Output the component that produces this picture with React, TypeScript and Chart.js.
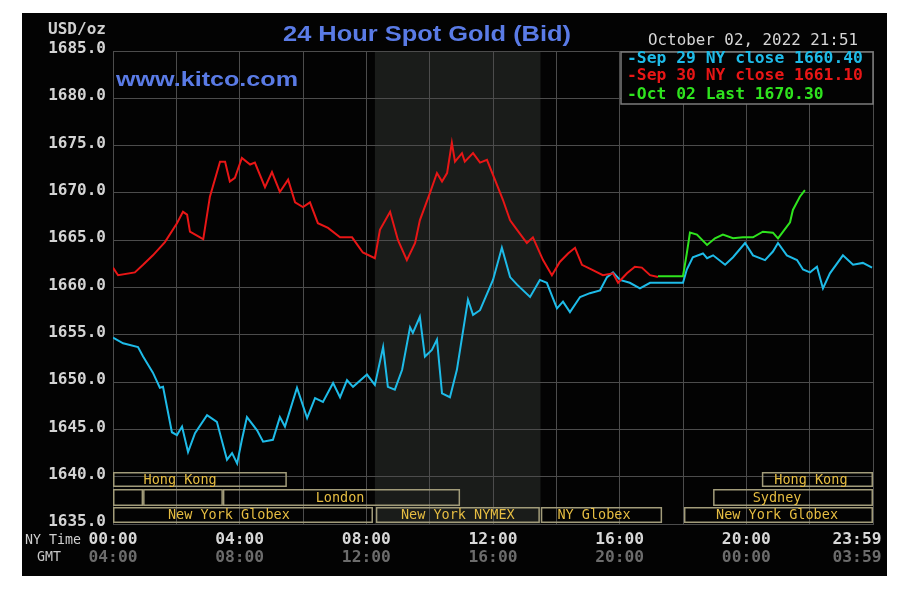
import React, { useEffect, useRef } from "react";
import { Chart, registerables } from "chart.js";

Chart.register(...registerables);

// ---- data (hours since 00:00 NY time, USD/oz) ----
const cyanTimes = [0, 0.32, 0.79, 0.95, 1.26, 1.48, 1.58, 1.86, 2.02, 2.18, 2.37, 2.59, 2.97, 3.28, 3.6, 3.76, 3.92, 4.07, 4.23, 4.55, 4.74, 5.05, 5.27, 5.43, 5.81, 6.13, 6.38, 6.63, 6.95, 7.17, 7.39, 7.58, 8.02, 8.27, 8.53, 8.68, 8.9, 9.13, 9.38, 9.47, 9.69, 9.85, 10.07, 10.23, 10.39, 10.64, 10.86, 11.21, 11.37, 11.59, 12.0, 12.28, 12.54, 12.76, 13.17, 13.48, 13.7, 14.02, 14.21, 14.43, 14.75, 15.06, 15.38, 15.6, 15.79, 16.01, 16.32, 16.64, 16.96, 18.0, 18.12, 18.31, 18.63, 18.76, 18.95, 19.33, 19.58, 19.96, 20.21, 20.59, 20.84, 21.0, 21.28, 21.6, 21.79, 22.01, 22.23, 22.42, 22.64, 23.05, 23.37, 23.68, 23.97];
const cyanValues = [1654.7, 1654.1, 1653.7, 1652.7, 1651.0, 1649.4, 1649.5, 1644.7, 1644.4, 1645.3, 1642.6, 1644.6, 1646.5, 1645.8, 1641.8, 1642.5, 1641.4, 1643.9, 1646.3, 1644.9, 1643.7, 1643.9, 1646.3, 1645.3, 1649.4, 1646.2, 1648.3, 1647.9, 1649.9, 1648.4, 1650.2, 1649.5, 1650.8, 1649.7, 1653.7, 1649.5, 1649.2, 1651.3, 1655.8, 1655.2, 1656.9, 1652.7, 1653.4, 1654.5, 1648.8, 1648.4, 1651.3, 1658.7, 1657.1, 1657.6, 1660.8, 1664.2, 1661.1, 1660.3, 1659.0, 1660.8, 1660.5, 1657.8, 1658.5, 1657.4, 1659.0, 1659.4, 1659.7, 1661.1, 1661.6, 1660.8, 1660.5, 1659.9, 1660.5, 1660.5, 1661.9, 1663.2, 1663.6, 1663.1, 1663.4, 1662.4, 1663.2, 1664.7, 1663.4, 1662.9, 1663.8, 1664.7, 1663.4, 1662.9, 1661.9, 1661.6, 1662.2, 1659.9, 1661.5, 1663.4, 1662.4, 1662.6, 1662.1];

const redTimes = [0, 0.16, 0.69, 0.95, 1.26, 1.64, 2.02, 2.21, 2.34, 2.43, 2.75, 2.85, 3.06, 3.38, 3.54, 3.69, 3.85, 4.07, 4.33, 4.48, 4.8, 5.02, 5.27, 5.53, 5.75, 6.0, 6.22, 6.47, 6.79, 7.17, 7.55, 7.89, 8.27, 8.43, 8.75, 9.0, 9.28, 9.54, 9.69, 10.01, 10.23, 10.39, 10.55, 10.7, 10.8, 11.02, 11.11, 11.37, 11.59, 11.81, 12.06, 12.31, 12.54, 12.76, 13.07, 13.26, 13.58, 13.86, 14.11, 14.37, 14.59, 14.81, 15.12, 15.47, 15.79, 15.95, 16.23, 16.48, 16.7, 16.96, 17.21];
const redValues = [1662.1, 1661.3, 1661.6, 1662.4, 1663.4, 1664.8, 1666.8, 1668.0, 1667.7, 1665.9, 1665.3, 1665.1, 1669.6, 1673.3, 1673.3, 1671.2, 1671.6, 1673.7, 1673.0, 1673.2, 1670.6, 1672.2, 1670.1, 1671.4, 1669.0, 1668.5, 1669.0, 1666.8, 1666.3, 1665.3, 1665.3, 1663.7, 1663.1, 1666.1, 1668.0, 1665.0, 1662.9, 1664.7, 1667.1, 1670.0, 1672.1, 1671.2, 1672.1, 1675.3, 1673.3, 1674.2, 1673.3, 1674.2, 1673.2, 1673.5, 1671.4, 1669.3, 1667.1, 1666.1, 1664.7, 1665.3, 1662.9, 1661.3, 1662.7, 1663.6, 1664.2, 1662.4, 1661.9, 1661.3, 1661.5, 1660.5, 1661.5, 1662.2, 1662.1, 1661.3, 1661.1];

const greenTimes = [17.21, 18.0, 18.12, 18.22, 18.44, 18.76, 19.01, 19.26, 19.58, 19.89, 20.21, 20.52, 20.84, 21.0, 21.16, 21.38, 21.47, 21.69, 21.85];
const greenValues = [1661.2, 1661.2, 1663.6, 1665.8, 1665.6, 1664.5, 1665.2, 1665.6, 1665.2, 1665.3, 1665.3, 1665.9, 1665.8, 1665.2, 1665.9, 1666.9, 1668.2, 1669.6, 1670.3];

const seriesLabels = ["Sep 29 NY close 1660.40", "Sep 30 NY close 1661.10", "Oct 02 Last 1670.30"];
const seriesColors = ["#1ebbe8", "#e81616", "#2fe41e"];

const timeLabelHours = [0, 4, 8, 12, 16, 20, 24];
const nyTimeLabels = ["00:00", "04:00", "08:00", "12:00", "16:00", "20:00", "23:59"];
const gmtTimeLabels = ["04:00", "08:00", "12:00", "16:00", "20:00", "00:00", "03:59"];

const yMin = 1635;
const yMax = 1685;
const yStep = 5;

// market sessions: row, start hour, end hour, label, label centre hour
const sessionRows = [0, 0, 1, 1, 1, 1, 2, 2, 2, 2];
const sessionStarts = [0, 20.49, 0, 0.95, 3.47, 18.95, 0, 8.3, 13.51, 18.03];
const sessionEnds = [5.49, 24, 0.95, 3.47, 10.96, 24, 8.21, 13.48, 17.34, 24];
const sessionNames = ["Hong Kong", "Hong Kong", "", "", "London", "Sydney", "New York Globex", "New York NYMEX", "NY Globex", "New York Globex"];
const sessionLabelAt = [2.12, 22.04, 0, 0, 7.17, 20.97, 3.66, 10.89, 15.19, 20.97];

const nymexShade = [8.27, 13.5];

const titleText = "24 Hour Spot Gold (Bid)";
const siteText = "www.kitco.com";
const dateText = "October 02, 2022 21:51";
const unitText = "USD/oz";

const MONO = '"DejaVu Sans Mono", "Liberation Mono", monospace';
const SANS = '"Liberation Sans", Arial, sans-serif';

function drawFit(
  ctx: CanvasRenderingContext2D,
  text: string,
  x: number,
  y: number,
  width: number,
  font: string,
  color: string,
  align: CanvasTextAlign
) {
  ctx.save();
  ctx.font = font;
  ctx.fillStyle = color;
  ctx.textBaseline = "middle";
  ctx.textAlign = align;
  const w0 = ctx.measureText(text).width || 1;
  ctx.translate(x, y);
  ctx.scale(width / w0, 1);
  ctx.fillText(text, 0, 0);
  ctx.restore();
}

const decorPlugin = {
  id: "kitcoDecor",
  beforeDraw(chart: any) {
    const { ctx, chartArea: a, scales } = chart;
    ctx.save();
    ctx.fillStyle = "#ffffff";
    ctx.fillRect(0, 0, chart.width, chart.height);
    ctx.fillStyle = "#030303";
    ctx.fillRect(22, 13, 865, 563);
    const x0 = scales.x.getPixelForValue(nymexShade[0]);
    const x1 = scales.x.getPixelForValue(nymexShade[1]);
    ctx.fillStyle = "#1a1c1a";
    ctx.fillRect(x0, a.top, x1 - x0, a.bottom - a.top);
    ctx.restore();
  },
  afterDraw(chart: any) {
    const { ctx, chartArea: a, scales } = chart;
    const xs = scales.x;
    ctx.save();

    // session boxes
    const rowTop = [a.bottom - 52, a.bottom - 35, a.bottom - 17];
    const rowH = [15, 17, 16];
    ctx.strokeStyle = "#a29c7a";
    ctx.lineWidth = 1.5;
    for (let i = 0; i < sessionRows.length; i++) {
      const r = sessionRows[i];
      const x0 = xs.getPixelForValue(sessionStarts[i]);
      const x1 = xs.getPixelForValue(sessionEnds[i]);
      ctx.strokeRect(x0 + 0.75, rowTop[r] + 0.75, x1 - x0 - 1.5, rowH[r] - 1.5);
      if (sessionNames[i]) {
        ctx.font = `13.5px ${MONO}`;
        ctx.fillStyle = "#e6bd42";
        ctx.textAlign = "center";
        ctx.textBaseline = "middle";
        ctx.fillText(sessionNames[i], xs.getPixelForValue(sessionLabelAt[i]), rowTop[r] + rowH[r] / 2 + 0.5);
      }
    }

    // titles
    drawFit(ctx, titleText, 427, 35, 288, `bold 22px ${SANS}`, "#5a7be6", "center");
    drawFit(ctx, siteText, 116, 80, 182, `bold 21px ${SANS}`, "#5a7be6", "left");
    drawFit(ctx, unitText, 48, 30, 58, `bold 15px ${MONO}`, "#d0d0d0", "left");
    drawFit(ctx, dateText, 648, 41, 210, `15px ${MONO}`, "#d6d6d6", "left");

    // legend
    ctx.fillStyle = "#030303";
    ctx.fillRect(621, 52, 252, 52);
    ctx.strokeStyle = "#7c7c7c";
    ctx.lineWidth = 1.5;
    ctx.strokeRect(621, 52, 252, 52);
    const legendY = [59, 76, 95];
    for (let i = 0; i < seriesLabels.length; i++) {
      const t = "-" + seriesLabels[i];
      drawFit(ctx, t, 627, legendY[i], t.length * 9.83, `bold 15px ${MONO}`, seriesColors[i], "left");
    }

    // x labels
    for (let i = 0; i < timeLabelHours.length; i++) {
      const last = i === timeLabelHours.length - 1;
      const px = xs.getPixelForValue(timeLabelHours[i]);
      const cx = last ? px - 16 : px;
      drawFit(ctx, nyTimeLabels[i], cx, 540, 49, `bold 15px ${MONO}`, "#d8d8d8", "center");
      drawFit(ctx, gmtTimeLabels[i], cx, 558, 49, `bold 15px ${MONO}`, "#6c6c6c", "center");
    }
    drawFit(ctx, "NY Time", 25, 540, 56, `14px ${MONO}`, "#d0d0d0", "left");
    drawFit(ctx, "GMT", 37, 557, 24, `14px ${MONO}`, "#c8c8c8", "left");

    ctx.restore();
  },
};

export default function App() {
  const ref = useRef<HTMLCanvasElement | null>(null);

  useEffect(() => {
    if (!ref.current) return;
    const mk = (t: number[], v: number[]) => t.map((x, i) => ({ x, y: v[i] }));
    const chart = new Chart(ref.current, {
      type: "line",
      data: {
        datasets: [
          { label: seriesLabels[2], data: mk(greenTimes, greenValues), borderColor: seriesColors[2], borderWidth: 2, pointRadius: 0, tension: 0, order: 0 },
          { label: seriesLabels[1], data: mk(redTimes, redValues), borderColor: seriesColors[1], borderWidth: 2, pointRadius: 0, tension: 0, order: 1 },
          { label: seriesLabels[0], data: mk(cyanTimes, cyanValues), borderColor: seriesColors[0], borderWidth: 2, pointRadius: 0, tension: 0, order: 2 },
        ],
      },
      options: {
        animation: false,
        responsive: false,
        devicePixelRatio: 1,
        events: [],
        layout: { padding: { left: 30, top: 51, right: 32, bottom: 68 } },
        plugins: { legend: { display: false }, tooltip: { enabled: false }, title: { display: false } },
        scales: {
          x: {
            type: "linear",
            min: 0,
            max: 24,
            afterFit: (s: any) => { s.height = 0; },
            ticks: { display: false, stepSize: 2 },
            grid: { color: "#4c4c4c", drawTicks: false, lineWidth: 1 },
            border: { color: "#4c4c4c" },
          },
          y: {
            type: "linear",
            min: yMin,
            max: yMax,
            afterFit: (s: any) => { s.width = 83; },
            ticks: {
              stepSize: yStep,
              padding: 7,
              labelOffset: -2,
              color: "#d4d4d4",
              font: { family: "DejaVu Sans Mono", size: 16, weight: "bold" },
              callback: (v: any) => Number(v).toFixed(1),
            },
            grid: { color: "#4c4c4c", drawTicks: false, lineWidth: 1 },
            border: { color: "#4c4c4c" },
          },
        },
      },
      plugins: [decorPlugin],
    } as any);
    return () => chart.destroy();
  }, []);

  return (
    <div style={{ position: "absolute", left: 0, top: 0, width: 905, height: 592, background: "#fff" }}>
      <canvas ref={ref} width={905} height={592} style={{ width: 905, height: 592, display: "block" }} />
    </div>
  );
}
